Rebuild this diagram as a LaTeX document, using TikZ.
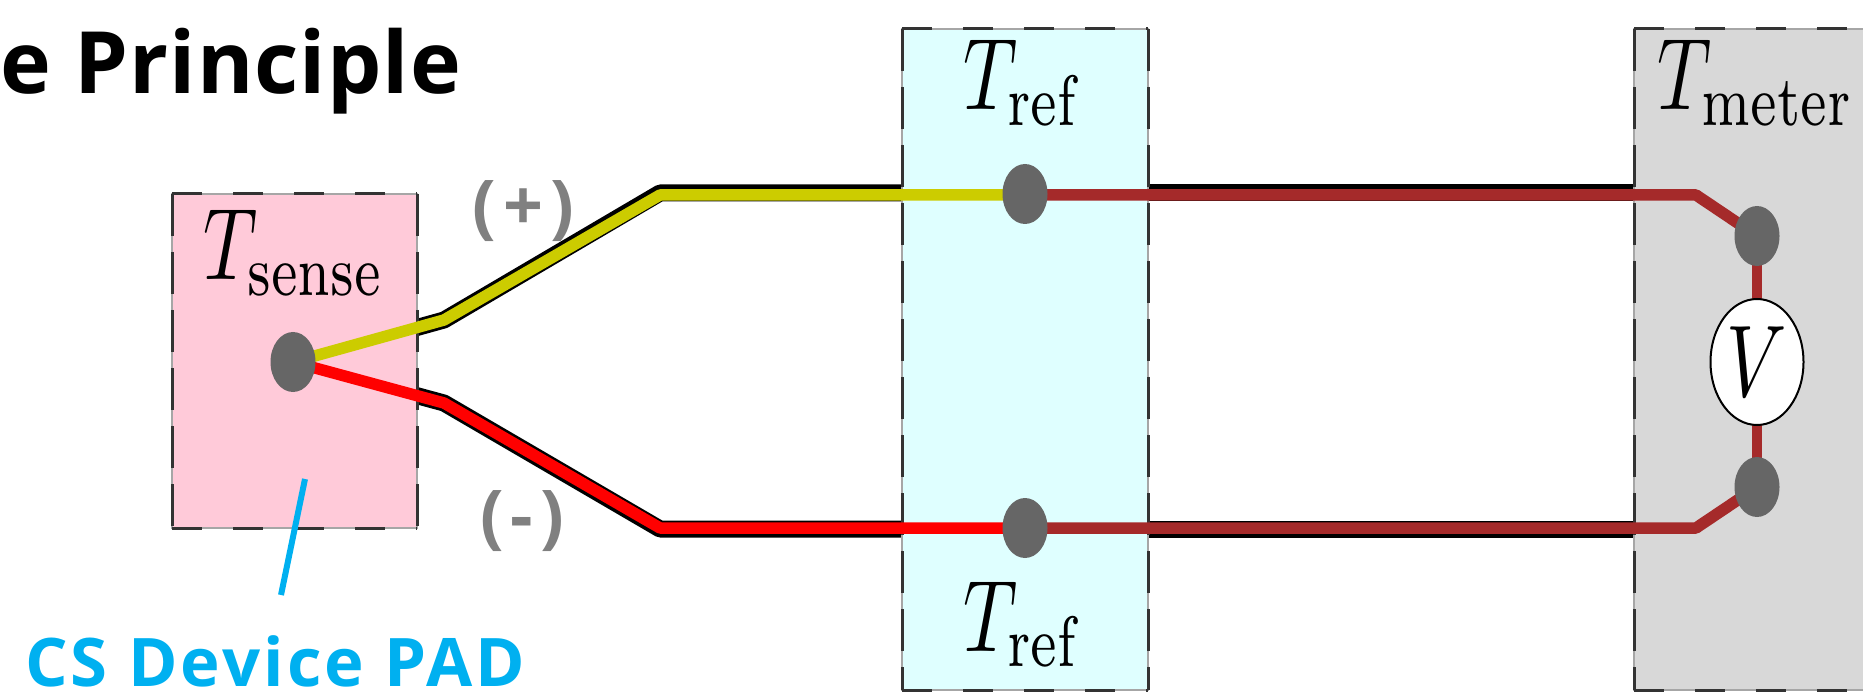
\documentclass[tikz,border=0pt]{standalone}
\usepackage{fontspec}
\usetikzlibrary{shapes.geometric}
\newfontfamily\titlefont{Open Sans}[UprightFont=* Bold,BoldFont=* Bold,LetterSpace=1.3]
\newfontfamily\calloutfont{Open Sans}[UprightFont=* Bold,BoldFont=* Bold,LetterSpace=4.6]
\newfontfamily\signfont{Open Sans}[UprightFont=* Bold,BoldFont=* Bold,LetterSpace=10]
\definecolor{padpink}{HTML}{FFCAD9}
\definecolor{refcyan}{HTML}{DFFFFF}
\definecolor{metergray}{HTML}{D8D8D8}
\definecolor{wireyellow}{HTML}{CCCC00}
\definecolor{wirebrown}{HTML}{A52A2A}
\definecolor{dotgray}{HTML}{666666}
\definecolor{callout}{HTML}{00B0F0}
\pgfdeclarelayer{under}
\pgfdeclarelayer{boxes}
\pgfdeclarelayer{wires}
\pgfsetlayers{under,boxes,wires,main}
\tikzset{
  x=1pt,y=-1pt,
  zonebox/.style={rectangle,draw=black!35,line width=1.4pt,inner sep=0pt,outer sep=0pt},
  hdash/.style={draw=black!80,line width=3pt,dash pattern=on 30pt off 31pt},
  vdash/.style={draw=black!80,line width=3pt,dash pattern=on 42pt off 16pt},
  junction/.style={ellipse,fill=dotgray,inner sep=0pt,minimum width=45pt,minimum height=60pt},
  wire/.style={line width=11.5pt,line join=round},
  metwire/.style={line width=10pt,line join=round},
  wirecase/.style={line width=17pt,line join=round,draw=black},
  mathlabel/.style={inner sep=0pt,xscale=7.5,yscale=10.2,anchor=base west},
  signlabel/.style={text=gray,inner sep=0pt,font=\signfont\fontsize{70}{70}\selectfont,anchor=base},
}
\newcommand{\zoneedges}[1]{%
  \draw[hdash] (#1.north west) -- (#1.north east);
  \draw[hdash] (#1.south west) -- (#1.south east);
  \draw[vdash] (#1.north west) -- (#1.south west);
  \draw[vdash] (#1.north east) -- (#1.south east);
}
\begin{document}
\begin{tikzpicture}
\useasboundingbox (0,0) rectangle (1863,692);
\clip (0,0) rectangle (1863,692);
% zones
\begin{pgfonlayer}{boxes}
\node[zonebox,fill=padpink,minimum width=245pt,minimum height=334pt] (pad) at (294.5,361) {};
\node[zonebox,fill=refcyan,minimum width=246pt,minimum height=661pt] (ref) at (1025,359.5) {};
\node[zonebox,fill=metergray,minimum width=290pt,minimum height=661pt] (meter) at (1779,359.5) {};
\zoneedges{pad}
\zoneedges{ref}
\zoneedges{meter}
\end{pgfonlayer}
% junctions and meter
\node[junction] (s) at (293,362) {};
\node[junction] (r1) at (1025,194) {};
\node[junction] (r2) at (1025,528) {};
\node[junction] (m1) at (1757,236) {};
\node[junction] (m2) at (1757,487) {};
\node[ellipse,draw=black,line width=2pt,fill=white,minimum width=93pt,minimum height=126pt,inner sep=0pt] (v) at (1757,362) {};
\node[inner sep=0pt,xscale=7.5,yscale=10.2] (vlabel) at (v.center) {$V$};
% wire bends
\coordinate (yb1) at (444,320);
\coordinate (yb2) at (660,194);
\coordinate (rb1) at (444,403);
\coordinate (rb2) at (660,528);
\coordinate (mb1) at (1696,194);
\coordinate (mb2) at (1696,528);
% black casing, hidden inside the zones
\begin{pgfonlayer}{under}
\draw[wirecase] (s.center) -- (yb1) -- ([yshift=1pt]yb2) -- ([yshift=1pt]r1.center);
\draw[wirecase] (s.center) -- (rb1) -- ([yshift=-1pt]rb2) -- ([yshift=-1pt]r2.center);
\draw[wirecase] ([yshift=1pt]r1.center) -- ([yshift=1pt]mb1);
\draw[wirecase] ([yshift=-1pt]r2.center) -- ([yshift=-1pt]mb2);
\end{pgfonlayer}
% wires
\begin{pgfonlayer}{wires}
\draw[wire,wireyellow] (s.center) -- (yb1) -- ([yshift=-1pt]yb2) -- ([yshift=-1pt]r1.center);
\draw[wire,red] (s.center) -- (rb1) -- (rb2) -- (r2.center);
\draw[wire,wirebrown] ([yshift=-1pt]r1.center) -- ([yshift=-1pt]mb1) -- (m1.center);
\draw[metwire,wirebrown] (m1.center) -- (v.center) -- (m2.center);
\draw[wire,wirebrown] (m2.center) -- (mb2) -- (r2.center);
\end{pgfonlayer}
% labels
\node[mathlabel] (tsense) at (202,280) {$T_{\mathrm{sense}}$};
\node[mathlabel] (tref1) at (962,110) {$T_{\mathrm{ref}}$};
\node[mathlabel] (tref2) at (962,651) {$T_{\mathrm{ref}}$};
\node[mathlabel] (tmeter) at (1656,110) {$T_{\mathrm{meter}}$};
\node[signlabel] (plus) at (523,231) {(+)};
\node[signlabel] (minus) at (522,540) {(-)};
\node[inner sep=0pt,anchor=base west,font=\titlefont\fontsize{86}{86}\selectfont] (title) at (0,94) {e Principle};
\node[inner sep=0pt,anchor=base west,text=callout,font=\calloutfont\fontsize{67}{67}\selectfont] (cs) at (25,686) {CS Device PAD};
\coordinate (pt1) at (305,479);
\coordinate (pt2) at (281,595);
\draw[callout,line width=6pt] (pt1) -- (pt2);
\end{tikzpicture}
\end{document}
